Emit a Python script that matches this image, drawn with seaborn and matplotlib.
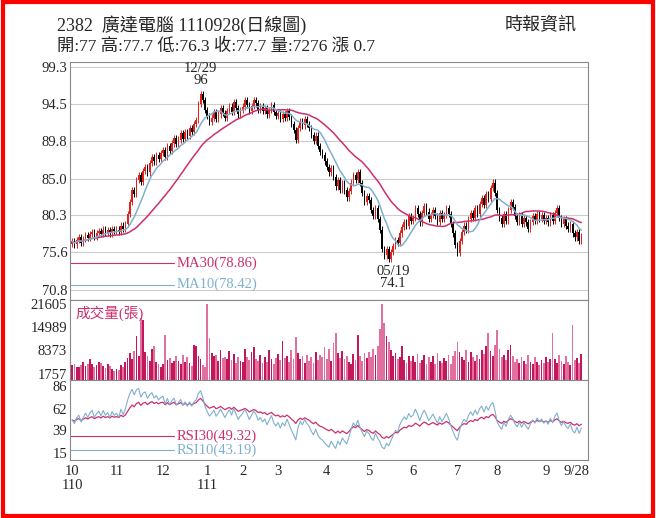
import numpy as np
import pandas as pd
import matplotlib.pyplot as plt
from matplotlib.patches import Rectangle
import seaborn as sns

# daily closes by month (Oct 2021 - Sep 2022)
close_m = {
    '10': [77.0, 76.6, 77.2, 77.5, 76.8, 77.3, 77.8, 77.4, 77.9, 78.2, 77.6, 78.0, 78.3, 77.9, 78.5, 78.1, 78.4, 78.0, 78.6, 78.3],
    '11': [78.5, 78.2, 79.0, 78.6, 79.2, 80.5, 82.0, 83.5, 83.0, 84.8, 85.5, 84.6, 86.0, 86.5, 85.8, 87.0, 87.8, 87.2, 88.0, 87.5, 88.3],
    '12': [88.6, 87.8, 89.2, 88.5, 89.5, 90.2, 89.4, 90.0, 90.8, 90.1, 91.0, 90.5, 91.5, 91.0, 92.0, 92.5, 94.5, 95.8, 95.0, 93.8],
    '1': [93.0, 92.3, 92.8, 93.5, 92.6, 93.2, 94.0, 93.4, 92.8, 93.6, 94.2, 93.5, 94.8, 94.0, 93.2, 93.8],
    '2': [94.2, 95.0, 94.4, 93.6, 94.3, 95.0, 94.6, 93.8, 94.2, 93.6, 94.0, 93.2, 93.8, 94.4, 93.5, 93.0],
    '3': [93.4, 92.6, 93.2, 92.8, 93.6, 92.9, 92.0, 91.2, 90.0, 91.5, 92.4, 91.8, 92.6, 92.0, 91.5, 90.6, 89.8, 90.5, 89.2, 88.4, 88.0, 87.2],
    '4': [86.5, 85.8, 86.4, 85.2, 84.0, 84.8, 83.6, 84.4, 83.5, 82.6, 83.4, 84.5, 85.5, 84.8, 85.8, 84.4, 83.2, 82.0, 82.8],
    '5': [82.3, 81.0, 80.2, 81.2, 79.8, 78.5, 76.0, 75.2, 76.0, 74.8, 75.6, 76.4, 77.2, 76.8, 78.0, 78.8, 79.5, 79.0, 80.2, 79.6],
    '6': [80.0, 81.2, 80.5, 79.4, 80.6, 81.5, 80.8, 79.8, 80.4, 81.0, 80.2, 79.5, 80.6, 79.8, 80.4, 81.2, 80.5, 79.2, 78.0, 76.5],
    '7': [75.5, 77.0, 78.2, 79.0, 78.5, 79.8, 80.6, 80.0, 81.2, 80.5, 81.8, 82.5, 81.6, 83.0, 82.4, 83.8, 84.5, 83.2],
    '8': [81.0, 80.0, 79.2, 80.5, 79.6, 81.0, 82.0, 81.4, 80.2, 79.5, 80.4, 79.2, 80.0, 79.4, 78.6, 79.5, 80.2, 79.6, 80.5, 79.8, 80.3, 79.6],
    '9': [80.0, 79.4, 80.3, 79.6, 80.6, 81.2, 80.0, 79.2, 79.8, 79.0, 78.6, 79.2, 78.0, 77.5, 78.2, 77.0, 77.7],
}
volume_m = {
    '10': [4200, 4500, 3800, 3600, 4100, 5200, 3900, 4400, 5800, 4600, 3700, 4300, 5100, 4800, 4000, 3500, 4600, 3900, 3000, 2500],
    '11': [3200, 2800, 4200, 3600, 5000, 6200, 7500, 5800, 8200, 12500, 6800, 17500, 17000, 7800, 6900, 5400, 8800, 9500, 5200, 4400, 3800],
    '12': [4600, 12800, 5600, 6200, 4800, 5400, 6800, 5500, 4500, 7000, 5200, 6400, 4800, 3900, 9800, 9600, 6900, 5800, 4200, 3600],
    '1': [21605, 12000, 7500, 6800, 7000, 5400, 8400, 6200, 6600, 5800, 8200, 5600, 7400, 4800, 6500, 5400],
    '2': [5200, 8800, 6400, 5600, 7800, 9200, 6000, 5400, 7200, 4800, 6600, 5000, 8400, 5800, 4600, 6200],
    '3': [7400, 5600, 11000, 6200, 6800, 5200, 8600, 6000, 12200, 7600, 5800, 6800, 4900, 7200, 5400, 6600, 4800, 8000, 5600, 7000, 6400, 9400],
    '4': [6000, 8800, 5400, 10400, 13200, 7600, 6200, 8200, 5800, 6800, 5000, 4600, 7400, 5600, 12800, 6800, 5400, 7600, 6200],
    '5': [7800, 6400, 8800, 7200, 9600, 14500, 21605, 16000, 12500, 10600, 8400, 6800, 7600, 5800, 6400, 9600, 5600, 4800, 6800, 5400],
    '6': [6800, 5200, 7400, 4800, 5600, 7200, 4400, 6400, 5000, 6800, 4600, 7600, 5400, 4800, 6200, 5400, 7000, 4400, 6800, 8200],
    '7': [10600, 7800, 6400, 5600, 8400, 5200, 7800, 6600, 5400, 7200, 6000, 8600, 7400, 9600, 13200, 8200, 6800, 9800],
    '8': [14000, 8800, 6400, 7200, 5600, 8600, 9800, 6800, 5200, 6000, 4800, 6600, 5400, 4600, 7000, 5200, 4400, 6400, 5000, 4200, 5600, 4800],
    '9': [6400, 5200, 5800, 13200, 6000, 4800, 7200, 5400, 4600, 6800, 5000, 4200, 15500, 5600, 6200, 4800, 7276],
}
month_labels = ['10\n110', '11', '12', '1\n111', '2', '3', '4', '5', '6', '7', '8', '9']
price_ticks = [70.8, 75.6, 80.3, 85.0, 89.8, 94.5, 99.3]
vol_ticks = [1757, 8373, 14989, 21605]
rsi_ticks = [15, 39, 62, 86]

close = np.concatenate([close_m[k] for k in close_m])
volume = np.concatenate([volume_m[k] for k in volume_m])
n = len(close)
df = pd.DataFrame({'close': close, 'volume': volume})
df['open'] = df['close'].shift(1).fillna(df['close'].iloc[0] - 0.3)
df['high'] = df[['open', 'close']].max(axis=1) + 0.4
df['low'] = df[['open', 'close']].min(axis=1) - 0.4
df['x'] = np.arange(n)
df['ma30'] = df['close'].rolling(30, min_periods=1).mean()
df['ma10'] = df['close'].rolling(10, min_periods=1).mean()


def rsi(s, p):
    # Wilder RSI, seeded neutral so the first days sit near 50
    d = s.diff().fillna(0).values
    au, ad = 0.3, 0.3
    out = []
    for v in d:
        au = (au * (p - 1) + max(v, 0)) / p
        ad = (ad * (p - 1) + max(-v, 0)) / p
        out.append(100 * au / (au + ad))
    return out


df['rsi30'] = rsi(df['close'], 30)
df['rsi10'] = rsi(df['close'], 10)

sns.set_style('white')
plt.rcParams['font.family'] = ['Liberation Serif', 'Noto Sans CJK TC']

RED = '#e0201b'
MAG = '#cc2f6e'
BLUE = '#7fb0d0'

fig = plt.figure(figsize=(6.56, 5.18), dpi=100)
fig.patches.append(Rectangle((0.004, 0.004), 0.992, 0.992, transform=fig.transFigure,
                             fill=False, edgecolor='red', linewidth=3))
L, W = 70 / 656, 518 / 656
ax1 = fig.add_axes([L, 1 - 300 / 518, W, 238 / 518])
ax2 = fig.add_axes([L, 1 - 380 / 518, W, 80 / 518], sharex=ax1)
ax3 = fig.add_axes([L, 1 - 460 / 518, W, 80 / 518], sharex=ax1)

# candles
up = df['close'] >= df['open']
for is_up, col in [(True, RED), (False, 'black')]:
    d = df[up == is_up]
    ax1.vlines(d['x'], d['low'], d['high'], color=col, linewidth=0.7)
    ax1.bar(d['x'], (d['close'] - d['open']).abs().clip(lower=0.15), bottom=d[['open', 'close']].min(axis=1),
            width=0.7, color=col, linewidth=0)
sns.lineplot(data=df, x='x', y='ma30', ax=ax1, color=MAG, linewidth=1.1)
sns.lineplot(data=df, x='x', y='ma10', ax=ax1, color=BLUE, linewidth=1.1)
ax1.set_ylim(69.5, 99.9)
ax1.set_yticks(price_ticks)
ax1.set_yticklabels([f'{t:.1f}' for t in price_ticks])
ax1.grid(axis='y', color='#cccccc', linewidth=0.8)

imax = int(df['high'].idxmax())
imin = int(df['low'].idxmin())
ax1.text(imax, df['high'][imax] + 0.5, '12/29\n96', ha='center', va='bottom', fontsize=10.5, linespacing=0.95)
ax1.text(imin + 2, df['low'][imin] - 0.4, '05/19\n74.1', ha='center', va='top', fontsize=10.5, linespacing=0.95)

for y, lab, col in [(0.155, 'MA30(78.86)', MAG), (0.065, 'MA10(78.42)', BLUE)]:
    ax1.plot([0.0, 0.2], [y, y], color=col, linewidth=0.8, transform=ax1.transAxes)
    ax1.text(0.205, y, lab, color=col, fontsize=10.5, va='center', transform=ax1.transAxes)

# volume
vcol = np.where(up, '#c2185b', '#e070a0')
ax2.bar(df['x'], df['volume'], width=0.8, color=vcol, linewidth=0)
ax2.set_ylim(0, 22600)
ax2.set_yticks(vol_ticks)
ax2.text(0.01, 0.93, '成交量(張)', color=MAG, fontsize=10.5, va='top', transform=ax2.transAxes)

# rsi
sns.lineplot(data=df, x='x', y='rsi30', ax=ax3, color=MAG, linewidth=0.9)
sns.lineplot(data=df, x='x', y='rsi10', ax=ax3, color=BLUE, linewidth=0.8)
ax3.set_ylim(8, 92)
ax3.set_yticks(rsi_ticks)
for y, lab, col in [(0.30, 'RSI30(49.32)', MAG), (0.12, 'RSI10(43.19)', BLUE)]:
    ax3.plot([0.0, 0.2], [y, y], color=col, linewidth=0.8, transform=ax3.transAxes)
    ax3.text(0.205, y, lab, color=col, fontsize=10.5, va='center', transform=ax3.transAxes)

starts = np.cumsum([0] + [len(close_m[k]) for k in close_m])[:-1]
ax3.set_xticks(list(starts) + [n - 3])
ax3.set_xticklabels(month_labels + ['9/28'], va='top', linespacing=1.1)
ax3.set_xticks(np.arange(n), minor=True)
ax3.tick_params(axis='x', which='minor', length=2, width=0.5, color='#555555')
ax3.tick_params(axis='x', which='major', length=0)
ax3.set_xlim(-1, n + 2)

for ax in (ax1, ax2, ax3):
    ax.set_xlabel('')
    ax.set_ylabel('')
    ax.tick_params(axis='y', length=0, labelsize=10.5, pad=2)
    for s in ax.spines.values():
        s.set_color('#888888')
        s.set_linewidth(0.8)
for ax in (ax1, ax2):
    ax.tick_params(axis='x', labelbottom=False, length=0)
ax3.tick_params(axis='x', labelsize=10.5)

fig.text(57 / 656, 1 - 25 / 518, '2382  廣達電腦 1110928(日線圖)', fontsize=13, va='center')
fig.text(57 / 656, 1 - 46 / 518, '開:77 高:77.7 低:76.3 收:77.7 量:7276 漲 0.7', fontsize=12.5, va='center')
fig.text(505 / 656, 1 - 25 / 518, '時報資訊', fontsize=13, va='center')

fig.savefig('out.png', dpi=100)
